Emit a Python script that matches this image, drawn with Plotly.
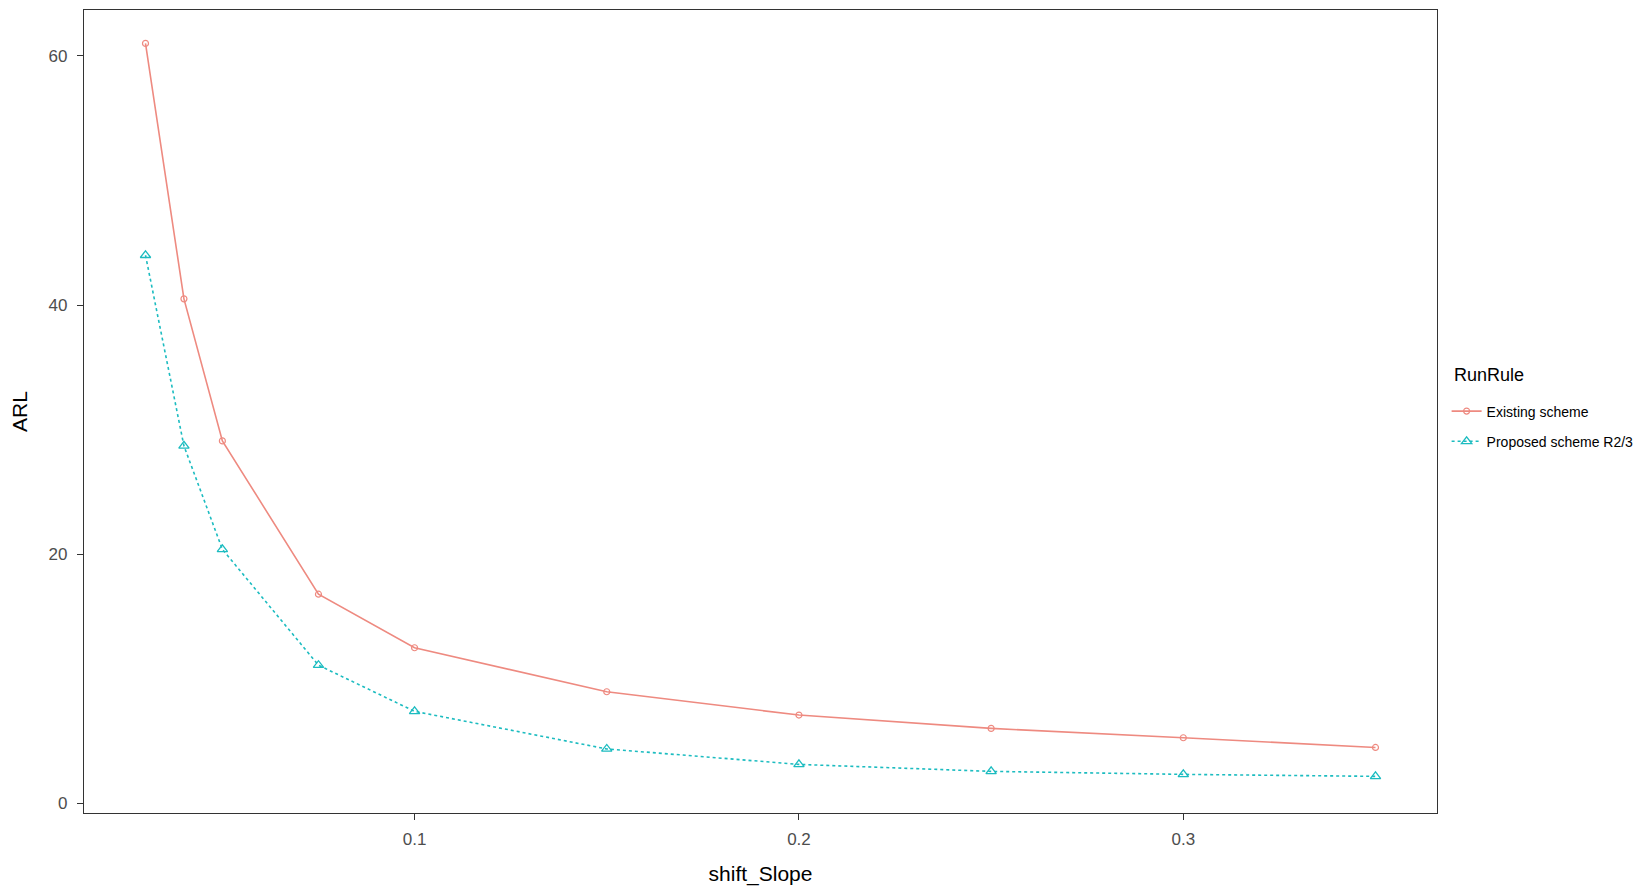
import plotly.graph_objects as go

shift_slope = [0.03, 0.04, 0.05, 0.075, 0.1, 0.15, 0.2, 0.25, 0.3, 0.35]
arl_existing = [61.0, 40.5, 29.1, 16.8, 12.5, 8.97, 7.1, 6.03, 5.28, 4.5]
arl_proposed = [44.0, 28.7, 20.4, 11.1, 7.4, 4.38, 3.14, 2.58, 2.34, 2.18]
x_ticks = [0.1, 0.2, 0.3]
y_ticks = [0, 20, 40, 60]

fig = go.Figure()
fig.add_trace(go.Scatter(
    x=shift_slope, y=arl_existing, mode="lines+markers", name="Existing scheme",
    legendgroup="a",
    line=dict(color="#EE8A80", width=1.6, dash="solid"),
    marker=dict(symbol="circle-open", size=6, color="#EE8A80", line=dict(width=1.2)),
))
fig.add_trace(go.Scatter(
    x=shift_slope, y=arl_proposed, mode="lines+markers", name="Proposed scheme R2/3",
    legendgroup="b",
    line=dict(color="#1CBCC0", width=1.6, dash="dot"),
    marker=dict(symbol="triangle-up-open", size=9, color="#1CBCC0", line=dict(width=1.3)),
))

axis_common = dict(
    showgrid=False, zeroline=False, showline=True, mirror=True,
    linecolor="#333333", linewidth=1.2,
    ticks="outside", ticklen=6, tickcolor="#333333", tickwidth=1,
    tickfont=dict(family="Liberation Sans, Arial, sans-serif", size=17, color="#4D4D4D"),
)

fig.update_xaxes(
    **axis_common, range=[0.014, 0.366], tickvals=x_ticks,
    ticktext=[str(v) for v in x_ticks], ticklabelstandoff=4,
    title=dict(text="shift_Slope", font=dict(family="Liberation Sans Narrow, Liberation Sans, Arial", size=21, color="#000000"), standoff=18),
)
fig.update_yaxes(
    **axis_common, range=[-0.76, 63.68], tickvals=y_ticks, ticklabelstandoff=6,
    title=dict(text="ARL", font=dict(family="Liberation Sans, Arial, sans-serif", size=21, color="#000000"), standoff=22),
)

fig.add_annotation(
    text="RunRule", xref="paper", yref="paper", x=1.0111, y=0.5454,
    xanchor="left", yanchor="middle", showarrow=False,
    font=dict(family="Liberation Sans, Arial", size=18, color="#000000"),
)

fig.update_layout(
    width=1636, height=880,
    margin=dict(l=76, r=207, t=2, b=75, autoexpand=False),
    plot_bgcolor="white", paper_bgcolor="white",
    legend=dict(
        font=dict(family="Liberation Sans, Arial", size=14, color="#000000"),
        x=1.0071, xanchor="left", y=0.4813, yanchor="middle",
        bgcolor="rgba(0,0,0,0)", tracegroupgap=9,
    ),
)

fig.write_html("out.html")
